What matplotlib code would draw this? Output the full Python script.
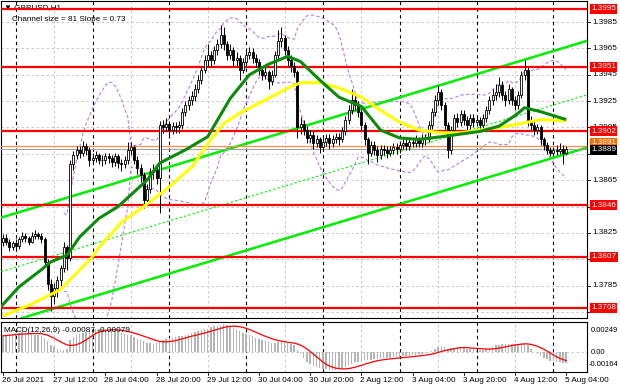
import numpy as np
import pandas as pd
import matplotlib
matplotlib.use("Agg")
import matplotlib.pyplot as plt

plt.rcParams["font.family"] = ["Liberation Sans", "DejaVu Sans"]

# ---------------- data ----------------
first_open = 1.3818
close = [1.3821,1.3818,1.3814,1.3817,1.3815,1.3820,1.3823,1.3821,1.3818,1.3823,
         1.3824,1.3823,1.3820,1.3803,1.3786,1.3777,1.3783,1.3789,1.3798,1.3814,
         1.3806,1.3877,1.3884,1.3888,1.3886,1.3891,1.3888,1.3880,1.3882,1.3884,
         1.3880,1.3880,1.3883,1.3882,1.3879,1.3883,1.3878,1.3877,1.3880,1.3888,
         1.3890,1.3880,1.3874,1.3869,1.3850,1.3858,1.3871,1.3873,1.3867,1.3907,
         1.3905,1.3908,1.3903,1.3906,1.3905,1.3907,1.3917,1.3922,1.3926,1.3929,
         1.3934,1.3941,1.3949,1.3956,1.3960,1.3956,1.3964,1.3968,1.3975,1.3968,
         1.3960,1.3964,1.3956,1.3958,1.3949,1.3955,1.3960,1.3962,1.3958,1.3955,
         1.3949,1.3945,1.3947,1.3940,1.3945,1.3960,1.3971,1.3973,1.3964,1.3956,
         1.3952,1.3947,1.3905,1.3908,1.3903,1.3897,1.3899,1.3893,1.3896,1.3890,
         1.3894,1.3897,1.3893,1.3896,1.3898,1.3896,1.3902,1.3911,1.3918,1.3926,
         1.3922,1.3917,1.3907,1.3896,1.3886,1.3892,1.3888,1.3884,1.3889,1.3888,
         1.3886,1.3888,1.3890,1.3889,1.3892,1.3893,1.3891,1.3894,1.3893,1.3896,
         1.3893,1.3897,1.3896,1.3907,1.3917,1.3926,1.3932,1.3922,1.3907,1.3888,
         1.3903,1.3912,1.3909,1.3915,1.3911,1.3907,1.3912,1.3909,1.3911,1.3907,
         1.3912,1.3918,1.3926,1.3930,1.3932,1.3937,1.3930,1.3926,1.3934,1.3926,
         1.3922,1.3930,1.3945,1.3949,1.3911,1.3907,1.3903,1.3905,1.3896,1.3892,
         1.3888,1.3886,1.3888,1.3887,1.3889,1.3886,1.3889]
high = [1.3824,1.3824,1.3820,1.3819,1.3820,1.3822,1.3826,1.3825,1.3823,1.3826,
        1.3827,1.3826,1.3825,1.3822,1.3805,1.3790,1.3787,1.3792,1.3801,1.3818,
        1.3816,1.3880,1.3887,1.3891,1.3891,1.3895,1.3893,1.3890,1.3886,1.3887,
        1.3886,1.3884,1.3886,1.3886,1.3884,1.3886,1.3885,1.3881,1.3883,1.3894,
        1.3894,1.3892,1.3883,1.3877,1.3871,1.3862,1.3874,1.3877,1.3876,1.3910,
        1.3911,1.3912,1.3910,1.3909,1.3909,1.3910,1.3920,1.3925,1.3929,1.3933,
        1.3938,1.3945,1.3952,1.3960,1.3968,1.3963,1.3967,1.3972,1.3983,1.3981,
        1.3971,1.3968,1.3966,1.3962,1.3960,1.3958,1.3964,1.3966,1.3965,1.3961,
        1.3957,1.3952,1.3951,1.3949,1.3949,1.3963,1.3979,1.3981,1.3975,1.3967,
        1.3960,1.3955,1.3949,1.3913,1.3911,1.3906,1.3903,1.3902,1.3899,1.3898,
        1.3897,1.3900,1.3900,1.3899,1.3901,1.3901,1.3905,1.3914,1.3922,1.3934,
        1.3931,1.3925,1.3919,1.3909,1.3898,1.3895,1.3895,1.3891,1.3892,1.3892,
        1.3891,1.3891,1.3893,1.3893,1.3895,1.3896,1.3896,1.3897,1.3897,1.3899,
        1.3898,1.3900,1.3900,1.3910,1.3920,1.3930,1.3937,1.3934,1.3924,1.3909,
        1.3906,1.3915,1.3916,1.3918,1.3918,1.3914,1.3915,1.3915,1.3914,1.3913,
        1.3915,1.3921,1.3929,1.3934,1.3938,1.3943,1.3940,1.3933,1.3938,1.3936,
        1.3929,1.3933,1.3948,1.3956,1.3951,1.3914,1.3910,1.3908,1.3907,1.3898,
        1.3894,1.3890,1.3890,1.3892,1.3893,1.3892,1.3891]
low = [1.3815,1.3816,1.3811,1.3812,1.3812,1.3813,1.3818,1.3818,1.3816,1.3817,
       1.3820,1.3820,1.3817,1.3800,1.3782,1.3766,1.3771,1.3776,1.3785,1.3795,
       1.3797,1.3804,1.3873,1.3881,1.3882,1.3883,1.3884,1.3876,1.3877,1.3879,
       1.3877,1.3876,1.3877,1.3878,1.3875,1.3876,1.3874,1.3872,1.3874,1.3877,
       1.3884,1.3877,1.3870,1.3864,1.3844,1.3846,1.3855,1.3866,1.3862,1.3840,
       1.3901,1.3902,1.3899,1.3900,1.3901,1.3901,1.3904,1.3914,1.3918,1.3922,
       1.3925,1.3931,1.3938,1.3946,1.3952,1.3951,1.3953,1.3960,1.3965,1.3964,
       1.3956,1.3957,1.3952,1.3952,1.3941,1.3946,1.3952,1.3957,1.3954,1.3951,
       1.3945,1.3941,1.3942,1.3934,1.3937,1.3943,1.3957,1.3966,1.3960,1.3952,
       1.3947,1.3943,1.3897,1.3900,1.3899,1.3893,1.3894,1.3889,1.3890,1.3886,
       1.3887,1.3891,1.3889,1.3890,1.3893,1.3892,1.3894,1.3899,1.3908,1.3915,
       1.3918,1.3913,1.3903,1.3892,1.3877,1.3883,1.3884,1.3879,1.3881,1.3884,
       1.3882,1.3883,1.3885,1.3885,1.3886,1.3889,1.3888,1.3888,1.3890,1.3890,
       1.3890,1.3890,1.3892,1.3894,1.3904,1.3914,1.3922,1.3918,1.3903,1.3882,
       1.3885,1.3900,1.3905,1.3906,1.3907,1.3903,1.3904,1.3905,1.3906,1.3903,
       1.3904,1.3909,1.3915,1.3922,1.3926,1.3928,1.3926,1.3921,1.3923,1.3922,
       1.3918,1.3919,1.3927,1.3941,1.3906,1.3903,1.3899,1.3900,1.3892,1.3888,
       1.3885,1.3883,1.3884,1.3884,1.3885,1.3877,1.3884]

macd_main = [135e-5,140e-5,145e-5,150e-5,155e-5,160e-5,163e-5,160e-5,155e-5,150e-5,
             145e-5,140e-5,135e-5,115e-5,90e-5,60e-5,40e-5,25e-5,20e-5,20e-5,
             30e-5,100e-5,125e-5,140e-5,150e-5,160e-5,170e-5,178e-5,185e-5,190e-5,
             192e-5,190e-5,188e-5,185e-5,180e-5,172e-5,165e-5,160e-5,152e-5,145e-5,
             138e-5,125e-5,112e-5,100e-5,88e-5,78e-5,72e-5,70e-5,72e-5,80e-5,
             100e-5,110e-5,115e-5,120e-5,125e-5,130e-5,135e-5,142e-5,150e-5,158e-5,
             165e-5,172e-5,180e-5,188e-5,195e-5,205e-5,212e-5,220e-5,228e-5,232e-5,
             225e-5,212e-5,200e-5,188e-5,175e-5,162e-5,150e-5,140e-5,130e-5,120e-5,
             110e-5,100e-5,92e-5,82e-5,75e-5,75e-5,80e-5,82e-5,78e-5,72e-5,
             66e-5,60e-5,20e-5,-15e-5,-50e-5,-80e-5,-100e-5,-115e-5,-125e-5,-132e-5,
             -138e-5,-142e-5,-145e-5,-146e-5,-145e-5,-140e-5,-132e-5,-122e-5,-110e-5,-95e-5,
             -85e-5,-78e-5,-72e-5,-68e-5,-65e-5,-62e-5,-58e-5,-55e-5,-52e-5,-50e-5,
             -48e-5,-45e-5,-42e-5,-40e-5,-38e-5,-35e-5,-32e-5,-30e-5,-26e-5,-22e-5,
             -18e-5,-14e-5,-10e-5,-2e-5,10e-5,25e-5,40e-5,45e-5,42e-5,30e-5,
             35e-5,38e-5,40e-5,38e-5,35e-5,30e-5,25e-5,22e-5,20e-5,18e-5,
             18e-5,25e-5,35e-5,45e-5,55e-5,62e-5,65e-5,66e-5,68e-5,70e-5,
             68e-5,68e-5,72e-5,78e-5,55e-5,30e-5,5e-5,-15e-5,-32e-5,-48e-5,
             -60e-5,-70e-5,-76e-5,-80e-5,-84e-5,-86e-5,-87e-5]

ma_green_bars = [-1, 5, 12, 15, 20, 24, 30, 36, 45, 49, 57, 64, 71, 77, 83, 89, 93,
                 99, 105, 112, 118, 124, 130, 137, 143, 149, 155, 160, 163, 168, 172, 176]
ma_green = [1.3768, 1.3784, 1.3797, 1.3803, 1.3808, 1.3822, 1.3836, 1.3845, 1.3865,
            1.3878, 1.3888, 1.3898, 1.3927, 1.3945, 1.3953, 1.3959, 1.3955, 1.3941,
            1.3928, 1.3921, 1.3903, 1.3897, 1.3896, 1.3898, 1.3900, 1.3902, 1.3906,
            1.3914, 1.3920, 1.3917, 1.3914, 1.3911]
ma_yellow_bars = [0, 9, 18, 24, 28, 30, 37, 44, 51, 59, 65, 69, 74, 82, 90, 93, 99,
                  105, 112, 118, 124, 130, 137, 143, 149, 155, 162, 168, 176]
ma_yellow = [1.3762, 1.3771, 1.3782, 1.3797, 1.3807, 1.3814, 1.3833, 1.3845, 1.3858,
             1.3875, 1.3896, 1.3908, 1.3916, 1.3926, 1.3936, 1.3939, 1.3939, 1.3935,
             1.3928, 1.3918, 1.3909, 1.3903, 1.3901, 1.3901, 1.3903, 1.3905, 1.3908,
             1.3911, 1.3910]

channel_bars = [0, 176]
channel_upper = [1.3837, 1.3966]
channel_mid = [1.3796, 1.3925]
channel_lower = [1.3756, 1.3885]

levels = [1.3995, 1.3951, 1.3902, 1.3846, 1.3807, 1.3768]
level_labels = ["1.3995", "1.3951", "1.3902", "1.3846", "1.3807", "1.3768"]
orange_level = 1.3891
bid_price = 1.3889

grid_prices = [1.3985, 1.3965, 1.3945, 1.3925, 1.3905, 1.3885, 1.3865, 1.3845,
               1.3825, 1.3805, 1.3785, 1.3765]
price_tick_labels = [1.3985, 1.3965, 1.3945, 1.3925, 1.3905, 1.3885, 1.3865,
                     1.3825, 1.3785, 1.3765]
time_labels = ["26 Jul 2021", "27 Jul 12:00", "28 Jul 04:00", "28 Jul 20:00",
               "29 Jul 12:00", "30 Jul 04:00", "30 Jul 20:00", "2 Aug 12:00",
               "3 Aug 04:00", "3 Aug 20:00", "4 Aug 12:00", "5 Aug 04:00"]
label_bars = [0, 16, 32, 48, 64, 80, 96, 112, 128, 144, 160, 176]
day_sep_bars = [4, 28, 52, 76, 100, 124, 148, 172]
grid_bars = [16, 40, 64, 88, 112, 136, 160]

# ---------------- figure ----------------
W, H = 620, 388
fig = plt.figure(figsize=(6.2, 3.88), dpi=100)
fig.patch.set_facecolor("white")

def rect(x0, y0, x1, y1):
    return [x0 / W, 1 - y1 / H, (x1 - x0) / W, (y1 - y0) / H]

ax = fig.add_axes(rect(1, 1, 587, 318))
ax2 = fig.add_axes(rect(1, 322, 587, 372), sharex=ax)

xmin, xmax = -0.6, 182.5
ax.set_xlim(xmin, xmax)
ax.set_ylim(1.37604, 1.40010)
ax2.set_ylim(-0.00164, 0.00249)

for a in (ax, ax2):
    for s in a.spines.values():
        s.set_linewidth(0.8)
        s.set_color("black")
    a.tick_params(left=False, labelleft=False, right=False, labelright=False,
                  bottom=False, labelbottom=False)

grid_kw = dict(color="#c0c0c0", lw=0.6, ls=(0, (3, 3)), zorder=0)
for p in grid_prices:
    ax.axhline(p, **grid_kw)
for b in grid_bars:
    ax.axvline(b, **grid_kw)
    ax2.axvline(b, **grid_kw)
ax2.axhline(0, **grid_kw)
for b in day_sep_bars:
    ax.axvline(b, color="black", lw=0.8, ls=(0, (3, 3)), zorder=1)
    ax2.axvline(b, color="black", lw=0.8, ls=(0, (3, 3)), zorder=1)

# Bollinger bands
cs = pd.Series(close)
mid = cs.rolling(20, min_periods=20).mean()
sd = cs.rolling(20, min_periods=20).std(ddof=0)
idx = np.arange(len(close))
ax.plot(idx, mid + 2 * sd, color="#b57ee6", lw=0.8, ls=(0, (3, 2)), zorder=2)
ax.plot(idx, mid - 2 * sd, color="#b57ee6", lw=0.8, ls=(0, (3, 2)), zorder=2)

# channel
ax.axline((channel_bars[0], channel_upper[0]), (channel_bars[1], channel_upper[1]),
          color="#00ee00", lw=1.8, zorder=3)
ax.axline((channel_bars[0], channel_lower[0]), (channel_bars[1], channel_lower[1]),
          color="#00ee00", lw=1.8, zorder=3)
ax.axline((channel_bars[0], channel_mid[0]), (channel_bars[1], channel_mid[1]),
          color="#00ee00", lw=0.8, ls=(0, (2, 2)), zorder=3)

# horizontal levels
for lv in levels:
    ax.axhline(lv, color="#ff0000", lw=1.6, zorder=3)
ax.axhline(orange_level, color="#ff9040", lw=0.9, zorder=3)
ax.axhline(bid_price, color="#a0a0a0", lw=0.7, zorder=3)

# candles
c = np.array(close)
o = np.r_[first_open, c[:-1]]
h = np.array(high)
l = np.array(low)
ax.vlines(idx, l, h, color="black", lw=0.7, zorder=4)
bull = c >= o
body_lo = np.minimum(o, c)
body_h = np.maximum(np.abs(c - o), 0.00005)
ax.bar(idx[bull], body_h[bull], bottom=body_lo[bull], width=0.62,
       color="white", edgecolor="black", lw=0.6, zorder=4.5)
ax.bar(idx[~bull], body_h[~bull], bottom=body_lo[~bull], width=0.62,
       color="black", edgecolor="black", lw=0.6, zorder=4.5)

# moving averages
ax.plot(ma_yellow_bars, ma_yellow, color="#ffff00", lw=2.2, zorder=5,
        solid_capstyle="butt")
ax.plot(ma_green_bars, ma_green, color="#0b8a0b", lw=2.2, zorder=5.1,
        solid_capstyle="butt")

# right price scale
ytr = ax.get_yaxis_transform()
px = 1.0 / (586.0)
fs = 5.9
for p in price_tick_labels:
    ax.text(1 + 5 * px, p, f"{p:.4f}", transform=ytr, fontsize=fs, va="center",
            ha="left", color="black", clip_on=False, zorder=6)
for p in grid_prices:
    ax.plot([1, 1 + 3 * px], [p, p], transform=ytr, color="black", lw=0.6,
            clip_on=False)
box = dict(boxstyle="square,pad=0.18", ec="none")
for lv, lab in zip(levels, level_labels):
    ax.text(1 + 4 * px, lv, lab, transform=ytr, fontsize=fs, va="center", ha="left",
            color="white", clip_on=False, zorder=7, bbox=dict(box, fc="#ff0000"))
ax.text(1 + 4 * px, orange_level + 0.00026, f"{orange_level:.4f}", transform=ytr,
        fontsize=fs, va="center", ha="left", color="white", clip_on=False, zorder=7,
        bbox=dict(box, fc="#ff6a00"))
ax.text(1 + 4 * px, bid_price - 0.00008, f"{bid_price:.4f}", transform=ytr,
        fontsize=fs, va="center", ha="left", color="white", clip_on=False, zorder=8,
        bbox=dict(box, fc="black"))

# titles
ax.text(3 * px, 0.978, "\u25bc GBPUSD,H1", transform=ax.transAxes, fontsize=fs,
        va="center", ha="left", color="black", zorder=2.5)
ax.text(11 * px, 0.942, "Channel size = 81 Slope = 0.73", transform=ax.transAxes,
        fontsize=fs, va="center", ha="left", color="black", zorder=6)

# MACD
ax2.bar(idx, macd_main, width=0.45, color="#b4b4b4", zorder=2)
signal = pd.Series(macd_main).rolling(9, min_periods=1).mean()
ax2.plot(idx, signal, color="#ff0000", lw=0.9, zorder=3)
ax2.text(3 * px, 0.84, "MACD(12,26,9) -0.00087 -0.00079", transform=ax2.transAxes,
         fontsize=fs, va="center", ha="left", color="black")
ytr2 = ax2.get_yaxis_transform()
fs2 = 5.5
ax2.text(1 + 4 * px, 0.84, "0.00249", transform=ax2.transAxes, fontsize=fs2,
         va="center", ha="left", clip_on=False)
ax2.text(1 + 4 * px, 0.0, "0.00", transform=ytr2, fontsize=fs2, va="center",
         ha="left", clip_on=False)
ax2.text(1 + 2 * px, 0.14, "-0.00164", transform=ax2.transAxes, fontsize=fs2,
         va="center", ha="left", clip_on=False)

# time axis
xtr = ax2.get_xaxis_transform()
for b, lab in zip(label_bars, time_labels):
    ax2.text(b - 0.3, -0.17, lab, transform=xtr, fontsize=fs, va="center",
             ha="left", clip_on=False)
    ax2.plot([b, b], [0, -0.05], transform=xtr, color="black", lw=0.6,
             clip_on=False)

fig.savefig("out.png", dpi=100, facecolor="white")
